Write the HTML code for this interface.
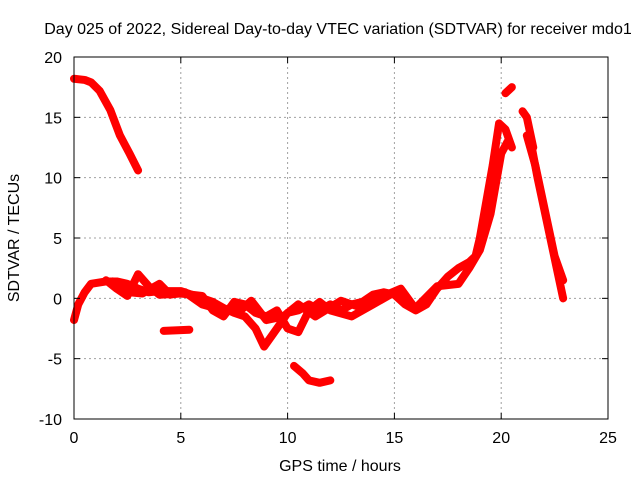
<!DOCTYPE html>
<html><head><meta charset="utf-8"><style>
html,body{margin:0;padding:0;background:#fff;}
svg{display:block;font-family:"Liberation Sans",sans-serif;}
</style></head><body>
<svg id="chart" width="640" height="480">
<text x="338" y="34" font-size="16" text-anchor="middle">Day 025 of 2022, Sidereal Day-to-day VTEC variation (SDTVAR) for receiver mdo1</text>
<g id="grid"></g>
<g id="series"></g>
<rect x="74" y="57" width="534" height="362" fill="none" stroke="#000" stroke-width="1"/>
<g id="ticks"></g>
<text x="340" y="471" font-size="16" text-anchor="middle">GPS time / hours</text>
<text transform="translate(19,238) rotate(-90)" font-size="16" text-anchor="middle">SDTVAR / TECUs</text>
</svg>
<script>
const xTicks=[0,5,10,15,20,25];
const yTicks=[-10,-5,0,5,10,15,20];
const sTop=[[0,18.2],[0.5,18.1],[0.8,17.9],[1.2,17.2],[1.7,15.6],[2.15,13.5],[2.6,12],[3.0,10.6]];
const sMain=[[0,-1.8],[0.2,-0.5],[0.5,0.5],[0.8,1.2],[1.5,1.4],[2,1.4],[2.5,1.2],[3,0.8],[3.5,0.5],[4,0.6],[5,0.6],[5.5,0.3],[6,0],[6.5,-0.3],[7,-0.8],[7.5,-1.2],[8,-1.5],[8.5,-2.5],[8.9,-4],[9.3,-3],[9.7,-2],[10,-1.2],[10.5,-1],[11,-0.5],[11.5,-1],[12,-0.5],[12.5,-1],[13,-0.5],[13.5,-0.3],[14,0.3],[14.5,0.5],[15,0.3],[15.5,-0.5],[16,-1],[16.5,-0.5],[17,0.8],[17.5,1.8],[18,2.5],[18.5,3],[18.8,3.5],[19,5],[19.3,8],[19.6,11],[19.9,14.5],[20.2,14],[20.5,12.5]];
const sSecond=[[1.5,1.5],[2,0.8],[2.5,0.2],[3,2],[3.5,1],[4,0.3],[5,0.4],[6,0.2],[6.5,-1],[7,-1.5],[7.5,-0.3],[8,-0.5],[8.5,-1.2],[9,-1.5],[9.5,-1],[10,-2.5],[10.5,-2.8],[11,-1],[11.5,-0.3],[12,-1],[13,-1.5],[14,-0.5],[15,0.5],[16,-0.8],[17,1],[18,1.2],[18.5,2.5],[19,4],[19.5,7],[20,12],[20.3,13]];
const sThird=[[1.8,1.4],[2.2,0.9],[2.6,0.5],[3.2,0.4],[4,1.2],[4.5,0.3],[5.2,0.5],[6,-0.5],[7,-1],[7.8,-1],[8.3,-0.2],[9,-1.8],[9.8,-1.5],[10.5,-0.5],[11.3,-1.5],[12.5,-0.2],[13.5,-0.8],[14.5,0.2],[15.3,0.8],[16,-0.9]];
const sFall1=[[21.0,15.5],[21.2,15],[21.5,12.5]];
const sFall2=[[21.4,12.8],[21.7,10],[22,7.5],[22.3,5],[22.6,2.5],[22.9,0]];
const sFall3=[[21.2,13.5],[21.6,11],[21.9,8.5],[22.2,6],[22.5,3.5],[22.9,1.5]];
const sPeak=[[20.2,17.0],[20.5,17.5]];
const sLow1=[[4.2,-2.7],[5.4,-2.6]];
const sLow2=[[10.3,-5.6],[10.7,-6.2],[11,-6.8],[11.5,-7.0],[12,-6.8]];
const allSeries=[sTop,sMain,sSecond,sThird,sFall1,sFall2,sFall3,sPeak,sLow1,sLow2];
const X=h=>74+h*(534/25);
const Y=v=>419-(v+10)*(362/30);
const NS='http://www.w3.org/2000/svg';
const grid=document.getElementById('grid'),ticks=document.getElementById('ticks'),ser=document.getElementById('series');
function mk(t,a,p){const e=document.createElementNS(NS,t);for(const k in a)e.setAttribute(k,a[k]);p.appendChild(e);return e;}
xTicks.forEach(t=>{
 if(t>0&&t<25){const g=mk('line',{x1:X(t),x2:X(t),y1:57,y2:419,stroke:'#a0a0a0','stroke-dasharray':'2,3'},grid);
 
 }
 const l=mk('text',{x:X(t),y:443,'font-size':16,'text-anchor':'middle'},ticks);l.textContent=t;
 
 
 mk('line',{x1:X(t),x2:X(t),y1:419,y2:413,stroke:'#000'},ticks);
 mk('line',{x1:X(t),x2:X(t),y1:57,y2:63,stroke:'#000'},ticks);
});
yTicks.forEach(t=>{
 if(t>-10&&t<20){const g=mk('line',{x1:74,x2:608,y1:Y(t),y2:Y(t),stroke:'#a0a0a0','stroke-dasharray':'2,3'},grid);
 
 }
 const l=mk('text',{x:62,y:Y(t)+6,'font-size':16,'text-anchor':'end'},ticks);l.textContent=t;
 
 
 mk('line',{x1:74,x2:80,y1:Y(t),y2:Y(t),stroke:'#000'},ticks);
 mk('line',{x1:608,x2:602,y1:Y(t),y2:Y(t),stroke:'#000'},ticks);
});
allSeries.forEach((s,i)=>{
 const p=mk('polyline',{points:s.map(d=>X(d[0])+','+Y(d[1])).join(' '),fill:'none',stroke:'#ff0000','stroke-width':8,'stroke-linejoin':'round','stroke-linecap':'round'},ser);
 
 
});
</script>
</body></html>
